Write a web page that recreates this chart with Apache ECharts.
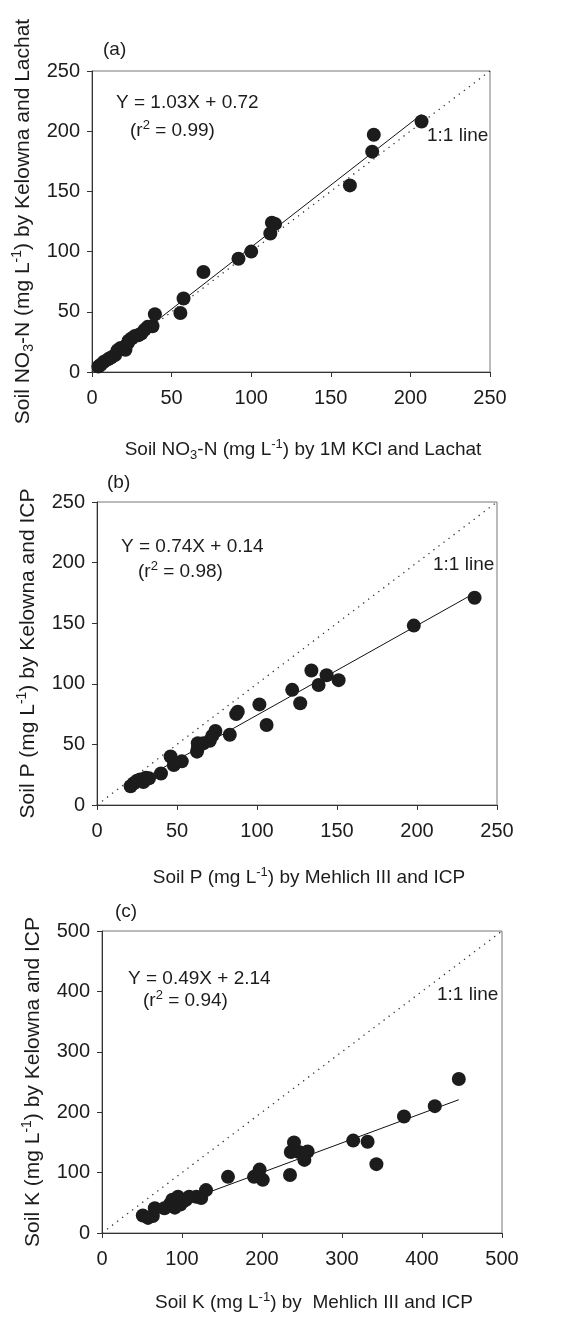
<!DOCTYPE html>
<html>
<head>
<meta charset="utf-8">
<script src="https://cdn.jsdelivr.net/npm/echarts@6/dist/echarts.min.js"></script>
<style>
html,body{margin:0;padding:0;background:#fff;}
#c{width:566px;height:1317px;}
</style>
</head>
<body>
<div id="c"></div>
<script>
// ---- Panel (a): Soil NO3-N ----
const aX = [4, 5.5, 7.5, 10, 12, 14.5, 16, 18, 21, 22.5, 23, 25, 27, 29, 31, 33, 35, 38, 39.5, 55.5, 57.5, 70, 92, 100, 112, 113, 115, 162, 176, 177, 207];
const aY = [4.5, 6, 8.5, 10.5, 12, 14, 18, 20, 18.5, 24, 26, 28, 30, 30.5, 32, 35, 37.5, 38, 48, 49, 61, 83, 94, 100, 115, 124, 123, 155, 183, 197, 208];
const aFit = {slope: 1.03, intercept: 0.72};

// ---- Panel (b): Soil P ----
const bX = [21, 23, 25, 27, 29, 30.5, 32.5, 40, 46, 48, 53, 62.5, 63, 63, 66.5, 70.5, 72, 74, 83, 87, 88, 101.5, 106, 122, 127, 134, 138.5, 143.5, 151, 198, 236];
const bY = [15.5, 18, 20, 21, 19, 22.5, 22, 26, 40, 33, 36, 44, 47, 51, 51, 53, 57, 61, 58, 75, 77, 83, 66, 95, 84, 111, 99, 107, 103, 148, 171];
const bFit = {slope: 0.74, intercept: 0.14};

// ---- Panel (c): Soil K ----
const cX = [51, 57.5, 63.5, 66, 78, 85, 88, 91, 95, 98, 101, 105, 109, 118, 124, 130, 157.5, 190, 197, 201, 235, 236, 240, 246, 253, 257, 314, 332, 343, 377.5, 416, 446];
const cY = [29, 25, 28, 41, 41, 48, 55, 42, 60, 47, 52, 55, 60, 60, 58, 71, 93, 93, 105, 88, 96, 134, 150, 134, 121, 135, 153, 151, 114, 193, 210, 255];
const cFit = {slope: 0.49, intercept: 2.14};

// axis ranges / ticks
const axisA = {min: 0, max: 250, interval: 50};
const axisB = {min: 0, max: 250, interval: 50};
const axisC = {min: 0, max: 500, interval: 100};

// texts
const titlesX = [
  'Soil NO{sub|3}-N (mg L{sup|-1}) by 1M KCl and Lachat',
  'Soil P (mg L{sup|-1}) by Mehlich III and ICP',
  'Soil K (mg L{sup|-1}) by  Mehlich III and ICP'
];
const titlesY = [
  'Soil NO{sub|3}-N (mg L{sup|-1}) by Kelowna and Lachat',
  'Soil P (mg L{sup|-1}) by Kelowna and ICP',
  'Soil K (mg L{sup|-1}) by Kelowna and ICP'
];
const panelTags = ['(a)', '(b)', '(c)'];
const equations = ['Y = 1.03X + 0.72', 'Y = 0.74X + 0.14', 'Y = 0.49X + 2.14'];
const r2Texts = ['(r{sup|2} = 0.99)', '(r{sup|2} = 0.98)', '(r{sup|2} = 0.94)'];
const oneToOne = '1:1 line';

const FONT = '"Liberation Sans", Arial, Helvetica, sans-serif';
const INK = '#1c1c1c';

const grids = [
  {left: 92, top: 71, width: 398, height: 301},
  {left: 97, top: 502, width: 400, height: 303},
  {left: 102, top: 931, width: 400, height: 302}
];
const ranges = [axisA, axisB, axisC];
const richSS = {
  sub: {fontSize: 13, fontFamily: FONT, color: INK, verticalAlign: 'bottom', lineHeight: 13},
  sup: {fontSize: 13, fontFamily: FONT, color: INK, verticalAlign: 'top', lineHeight: 13}
};

function pts(xs, ys){ return xs.map((x,i)=>[x, ys[i]]); }
function fitLine(xs, f){
  const lo = Math.min(...xs), hi = Math.max(...xs);
  return [[lo, f.slope*lo + f.intercept], [hi, f.slope*hi + f.intercept]];
}

const xAxes = [], yAxes = [], series = [];
const xNameGap = [66, 61, 58];
ranges.forEach((r, i) => {
  const common = {
    gridIndex: i, type: 'value', min: r.min, max: r.max, interval: r.interval,
    splitLine: {show: false},
    axisLine: {show: true, onZero: false, lineStyle: {color: '#333', width: 1}},
    axisTick: {show: true, inside: false, length: 5, lineStyle: {color: '#333'}},
    axisLabel: {color: INK, fontSize: 20, fontFamily: FONT},
    nameLocation: 'middle'
  };
  xAxes.push(Object.assign({}, common, {
    name: titlesX[i], nameGap: xNameGap[i],
    axisLabel: Object.assign({}, common.axisLabel, {margin: 16}),
    nameTextStyle: {color: INK, fontSize: 19, fontFamily: FONT, lineHeight: 24, rich: richSS, padding: [0,0,0,24]}
  }));
  yAxes.push(Object.assign({}, common, {
    name: titlesY[i], nameGap: 56, nameRotate: 90,
    axisLabel: Object.assign({}, common.axisLabel, {margin: 12}),
    nameTextStyle: {color: INK, fontSize: 21, fontFamily: FONT, lineHeight: 26, rich: {
      sub: {fontSize: 14, fontFamily: FONT, color: INK, verticalAlign: 'bottom', lineHeight: 14},
      sup: {fontSize: 14, fontFamily: FONT, color: INK, verticalAlign: 'top', lineHeight: 14}
    }}
  }));
});

const data = [[aX, aY, aFit], [bX, bY, bFit], [cX, cY, cFit]];
data.forEach(([xs, ys, f], i) => {
  const r = ranges[i];
  series.push({
    type: 'line', xAxisIndex: i, yAxisIndex: i, silent: true, symbol: 'none',
    data: [[r.min, r.min], [r.max, r.max]],
    lineStyle: {color: '#333', width: 1.3, type: [1.3, 5]}, z: 1
  });
  series.push({
    type: 'line', xAxisIndex: i, yAxisIndex: i, silent: true, symbol: 'none',
    data: fitLine(xs, f), lineStyle: {color: '#111', width: 1}, z: 2
  });
  series.push({
    type: 'scatter', xAxisIndex: i, yAxisIndex: i, data: pts(xs, ys),
    symbol: 'circle', symbolSize: 14, itemStyle: {color: INK, opacity: 1}, z: 3
  });
});

// annotation placements (pixels)
const tagPos = [[103, 50], [107, 483], [115, 912]];
const eqPos = [[116, 103], [121, 547], [128, 979]];
const r2Pos = [[130, 131], [138, 572], [143, 1001]];
const onePos = [[427, 136], [433, 565], [437, 995]];
const graphics = [];
function txt(text, p, rich){
  graphics.push({type: 'text', x: p[0], y: p[1], silent: true,
    style: {text: text, fill: INK, font: '19px ' + FONT, verticalAlign: 'middle', align: 'left',
      lineHeight: 24, rich: rich || undefined}});
}
for (let i = 0; i < 3; i++) {
  txt(panelTags[i], tagPos[i]);
  txt(equations[i], eqPos[i]);
  txt(r2Texts[i], r2Pos[i], {sup: {fontSize: 13, fontFamily: FONT, fill: INK, verticalAlign: 'top', lineHeight: 13}});
  txt(oneToOne, onePos[i]);
}

const chart = echarts.init(document.getElementById('c'), null, {renderer: 'canvas'});
chart.setOption({
  animation: false,
  backgroundColor: '#fff',
  grid: grids.map(g => Object.assign({show: true, borderColor: '#777', borderWidth: 1, backgroundColor: 'transparent'}, g)),
  xAxis: xAxes,
  yAxis: yAxes,
  series: series,
  graphic: graphics
});
</script>
</body>
</html>
